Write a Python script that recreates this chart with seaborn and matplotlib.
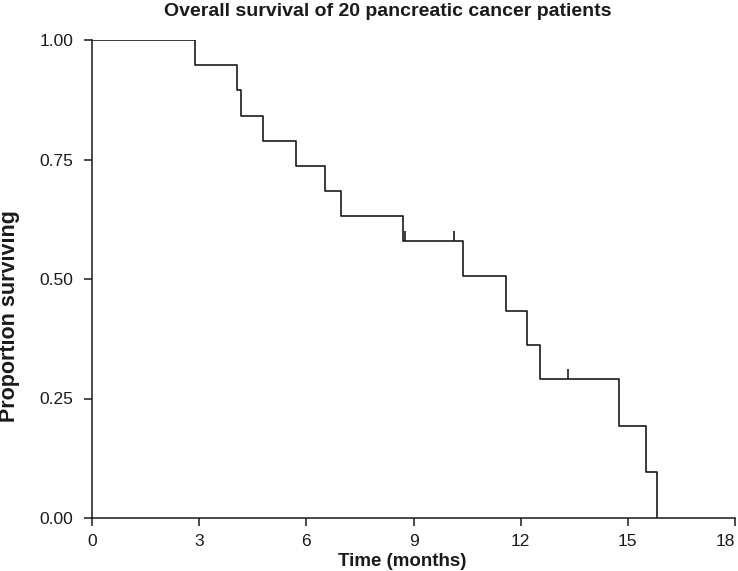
import matplotlib
matplotlib.use("Agg")
import matplotlib.pyplot as plt
import seaborn as sns
import pandas as pd

# Kaplan-Meier step points
times = [0, 2.88, 4.05, 4.18, 4.80, 5.71, 6.51, 6.97, 8.72, 10.38, 11.58, 12.17, 12.55, 14.74, 15.52, 15.82]
surv = [1.0, 0.947, 0.895, 0.842, 0.789, 0.737, 0.684, 0.632, 0.579, 0.507, 0.434, 0.362, 0.290, 0.193, 0.097, 0.0]
# censored observations
censor_times = [8.76, 10.12, 13.33]
censor_surv = [0.579, 0.579, 0.290]

x_ticks = [0, 3, 6, 9, 12, 15, 18]
y_ticks = [0.0, 0.25, 0.50, 0.75, 1.00]
y_ticklabels = ["0.00", "0.25", "0.50", "0.75", "1.00"]

sns.set_theme(style="ticks")
plt.rcParams["font.family"] = ["Liberation Sans", "DejaVu Sans"]

W, H = 738, 571
fig = plt.figure(figsize=(W / 100, H / 100), dpi=100)
ax = fig.add_axes([92 / W, 1 - 518 / H, (735 - 92) / W, (518 - 40) / H])

ink = "#1a1a1a"
df = pd.DataFrame({"time": times, "surv": surv})
sns.lineplot(data=df, x="time", y="surv", drawstyle="steps-post", color=ink,
             linewidth=1.2, ax=ax, estimator=None, sort=False)

tick_h = 0.021
ax.vlines(censor_times, censor_surv, [s + tick_h for s in censor_surv], color=ink, linewidth=1.2)

ax.set_xlim(0, 18)
ax.set_ylim(0, 1.0)
ax.set_xticks(x_ticks)
ax.set_xticklabels([str(t) for t in x_ticks])
ax.set_yticks(y_ticks)
ax.set_yticklabels(y_ticklabels)
ax.tick_params(axis="both", labelsize=12.5, colors=ink, width=1.1, length=5.5)
ax.tick_params(axis="y", pad=8)
ax.tick_params(axis="x", pad=6)
# keep the last x tick label inside the figure
ax.get_xticklabels()[-1].set_horizontalalignment("right")
sns.despine(ax=ax)
for s in ["left", "bottom"]:
    ax.spines[s].set_linewidth(1.1)
    ax.spines[s].set_color(ink)

ax.set_xlabel("Time (months)", fontsize=13.5, fontweight="bold", color=ink)
ax.xaxis.set_label_coords((402 - 92) / (735 - 92), -(561 - 518) / (518 - 40))
ax.xaxis.label.set_va("center")

ax.set_ylabel("Proportion surviving", fontsize=15.5, fontweight="bold", color=ink)
ax.yaxis.set_label_coords(-(92 - 10) / (735 - 92), (518 - 316) / (518 - 40))
ax.yaxis.label.set_va("center")

fig.text(388 / W, 1 - 11 / H, "Overall survival of 20 pancreatic cancer patients",
         fontsize=14, fontweight="bold", color=ink, ha="center", va="center")

fig.savefig("out.png", dpi=100)
